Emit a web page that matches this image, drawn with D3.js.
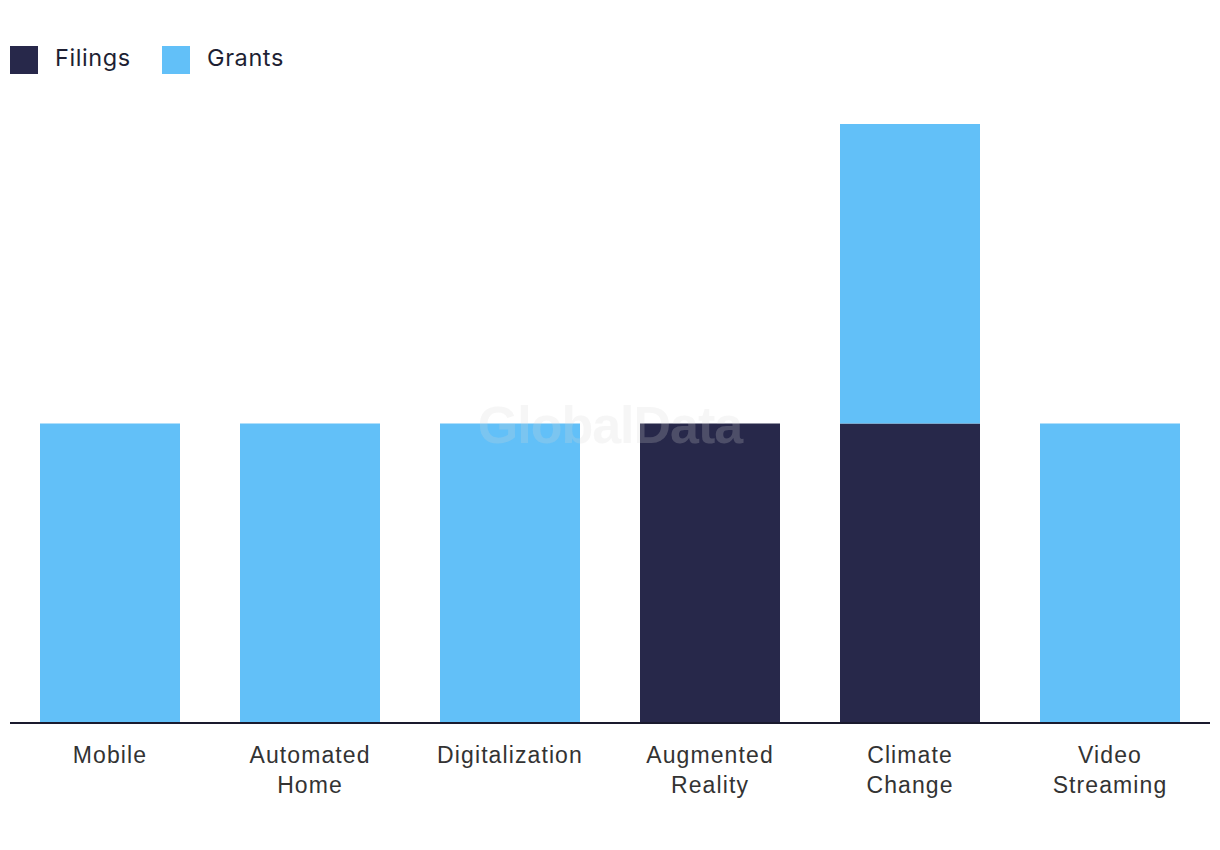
<!DOCTYPE html>
<html><head><meta charset="utf-8">
<script src="https://cdn.jsdelivr.net/npm/d3@7"></script>
<style>body{margin:0;background:#fff;}svg{display:block;font-family:Inter, "Noto Sans", sans-serif;}</style>
</head><body>
<svg id="chart" width="1220" height="850"></svg>
<script>
const categories = ["Mobile", "Automated Home", "Digitalization", "Augmented Reality", "Climate Change", "Video Streaming"];
const labelLines = [["Mobile"], ["Automated", "Home"], ["Digitalization"], ["Augmented", "Reality"], ["Climate", "Change"], ["Video", "Streaming"]];
const filings = [0, 0, 0, 1, 1, 0];
const grants = [1, 1, 1, 0, 1, 1];
const seriesNames = ["Filings", "Grants"];
const colors = ["#27284a", "#62c0f8"];

const svg = d3.select("#chart");
const x = d3.scaleBand().domain(categories).range([10, 1210]).paddingInner(0.3).paddingOuter(0.15);
const y = d3.scaleLinear().domain([0, 2]).range([723, 124]);

const rows = categories.map((c, i) => ({cat: c, Filings: filings[i], Grants: grants[i]}));
const stacked = d3.stack().keys(seriesNames)(rows);

svg.append("g").selectAll("g").data(stacked).join("g")
  .attr("fill", (d, i) => colors[i])
  .selectAll("rect").data(d => d).join("rect")
  .attr("x", d => x(d.data.cat))
  .attr("width", x.bandwidth())
  .attr("y", d => y(d[1]))
  .attr("height", d => y(d[0]) - y(d[1]));

// watermark
svg.append("text").attr("x", 610).attr("y", 443).attr("text-anchor", "middle")
  .attr("font-size", 52).attr("font-weight", 700).attr("fill", "#d8d8d8").attr("fill-opacity", 0.22)
  .attr("font-family", "'Liberation Sans', Arial, sans-serif").attr("letter-spacing", "-1px")
  .text("GlobalData");

// axis
const xAxis = svg.append("g").attr("transform", `translate(0,${y(0)})`).call(d3.axisBottom(x).tickSize(0).tickFormat(""));
xAxis.select(".domain").attr("stroke", "#1a1a2e").attr("stroke-width", 2).attr("d", "M10,0H1210");
xAxis.selectAll(".tick").each(function(d, i) {
  const t = d3.select(this).append("text").attr("fill", "#333").attr("font-size", 23)
    .attr("text-anchor", "middle").attr("y", 40).attr("letter-spacing", "1.1px");
  labelLines[i].forEach((ln, j) => t.append("tspan").attr("x", 0).attr("dy", j === 0 ? 0 : 30).text(ln));
});

// legend
const leg = svg.append("g");
const legX = [10, 162];
seriesNames.forEach((s, i) => {
  leg.append("rect").attr("x", legX[i]).attr("y", 46).attr("width", 28).attr("height", 28).attr("fill", colors[i]);
  leg.append("text").attr("x", legX[i] + 45).attr("y", 65.5).attr("font-size", 23.5).attr("fill", "#1e1f33")
    .attr("letter-spacing", "0.6px").text(s);
});
</script>
</body></html>
